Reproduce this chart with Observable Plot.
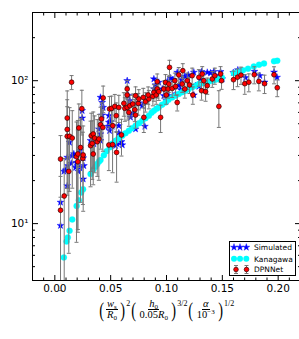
<!DOCTYPE html>
<html><head><meta charset="utf-8">
<script src="https://cdn.jsdelivr.net/npm/d3@7"></script>
<script src="https://cdn.jsdelivr.net/npm/@observablehq/plot@0.6"></script>
<style>
html,body{margin:0;padding:0;background:#fff;overflow:hidden;}
#wrap{position:relative;width:299px;height:339px;overflow:hidden;background:#fff;}
#legend{position:absolute;left:229px;top:241px;width:67px;height:35px;box-sizing:border-box;border:1px solid #000;background:#fff;}
#legend svg{display:block;}
#xlabel{position:absolute;left:0;top:298px;width:332px;display:flex;justify-content:center;}
.m{display:inline-flex;align-items:center;font-family:"Liberation Serif","DejaVu Serif",serif;font-size:10.5px;color:#000;}
.fr{display:inline-flex;flex-direction:column;align-items:center;margin:0 1px;}
.nu{border-bottom:0.8px solid #000;padding:0 1px;line-height:10.5px;}
.de{line-height:10.5px;padding:0 1px;}
.pr{font-size:22px;line-height:23px;font-weight:300;display:inline-block;transform:scaleX(0.65);}
.ex{font-size:8px;align-self:flex-start;margin-top:1px;}
sub{font-size:7px;vertical-align:-2px;line-height:0;}
.de sup{font-size:7px;vertical-align:4px;line-height:0;}
</style></head><body><div id="wrap"></div>
<script>
// ---- data ----
const xDomain = [-0.02, 0.22];
const yDomain = [4, 300];
const xMajor = [0, 0.05, 0.1, 0.15, 0.2];
const xMinor = [-0.01, 0.01, 0.02, 0.03, 0.04, 0.06, 0.07, 0.08, 0.09, 0.11, 0.12, 0.13, 0.14, 0.16, 0.17, 0.18, 0.19, 0.21];
const yMajor = [10, 100];
const yMajorLabels = ["10¹", "10²"];
const yMinor = [5, 6, 7, 8, 9, 20, 30, 40, 50, 60, 70, 80, 90, 200];
const seriesNames = ["Simulated", "Kanagawa", "DPNNet"];

// Simulated: [x, y]
const simulated = [
[0.0051,9.7],[0.0051,14.1],[0.0081,23.2],[0.0096,23.7],[0.0111,18.4],[0.0111,29.1],[0.0116,25.4],[0.0132,37.0],
[0.0147,26.4],[0.0156,29.9],[0.0170,30.7],[0.0185,24.7],[0.0194,26.8],[0.0210,23.2],[0.0224,32.4],[0.0224,24.7],
[0.0245,54.8],[0.0245,61.7],[0.0254,28.8],[0.0260,25.4],[0.0254,20.5],[0.0320,38.1],[0.0335,40.1],[0.0349,36.1],
[0.0358,39.1],[0.0394,45.9],[0.0409,42.4],[0.0409,38.1],[0.0409,76.4],[0.0424,70.4],[0.0433,65.0],[0.0424,57.5],
[0.0484,56.9],[0.0484,51.1],[0.0499,51.6],[0.0478,47.9],[0.0514,47.9],[0.0490,44.7],[0.0544,35.1],[0.0573,48.4],
[0.0573,43.1],[0.0597,37.4],[0.0604,35.5],[0.0648,100],[0.0657,78.5],[0.0669,72.4],[0.0678,55.4],[0.0698,59.4],
[0.0723,45.9],[0.0752,69.8],[0.0783,66.8],[0.0806,47.9],[0.0887,102.8],[0.0887,87.5],[0.0902,93.3],[0.0931,97.3],
[0.0962,87.5],[0.0976,78.5],[0.0998,72.4],[0.1007,98.4],[0.1021,78.5],[0.1057,101.6],[0.1081,80.7],[0.1096,114.3],
[0.1110,92.3],[0.1126,86.5],[0.1135,101.6],[0.1164,107.2],[0.1195,109.6],[0.1245,114.3],[0.1245,79.4],[0.1260,92.3],
[0.1290,91.2],[0.1305,101.6],[0.1314,115.6],[0.1365,114.3],[0.1394,113.2],[0.1424,115.6],[0.1439,108.4],[0.1484,115.6],
[0.1499,102.8],[0.1598,113.8],[0.1639,118.8],[0.1667,115.6],[0.1708,105],[0.1788,116.2],[0.1836,108.4],[0.1878,97.6],
[0.1963,114.7],[0.1990,105.5],[0.1036,104.4],[0.0559,36.1],[0.0902,80.7]
];

// Kanagawa: [x, y]
const kanagawa = [
[0.0081,5.8],[0.0105,7.5],[0.0116,8.0],[0.0132,8.9],[0.0156,10.7],[0.0195,13.3],[0.0215,14.6],[0.0236,16.5],
[0.0253,17.4],[0.0320,22.2],[0.0344,23.9],[0.0364,25.0],[0.0380,26.1],[0.0396,27.2],[0.0409,27.9],[0.0439,30.1],
[0.0463,32.1],[0.0493,34.2],[0.0517,36.3],[0.0544,38.0],[0.0570,39.5],[0.0604,41.2],[0.0633,42.9],[0.0663,44.7],
[0.0691,46.5],[0.0723,48.4],[0.0754,50.4],[0.0783,52.5],[0.0812,54.6],[0.0842,56.9],[0.0866,59.7],[0.0887,61.7],
[0.0911,63.7],[0.0931,65.0],[0.0960,67.9],[0.0991,70.4],[0.1018,73.6],[0.1051,76.4],[0.1081,78.5],[0.1110,80.7],
[0.1139,83.1],[0.1170,85.1],[0.1197,87.2],[0.1230,89.8],[0.1260,92.3],[0.1290,94.7],[0.1318,96.0],[0.1350,97.3],
[0.1376,98.4],[0.1410,100],[0.1439,101.6],[0.1469,102.8],[0.1497,105],[0.1603,112.8],[0.1641,115.6],[0.1685,118.4],
[0.1730,121.3],[0.1782,125.9],[0.1829,129.4],[0.1873,131.9],[0.1963,136.9],[0.1992,138]
];

// DPNNet: [x, y, error]
const dpnnet = [
[0.0051,28.3,13],[0.0051,12.4,9],[0.0084,15.6,13],[0.0111,54.8,30],[0.0111,45.6,28],[0.0111,40.8,25],[0.0132,40.8,24],
[0.0150,97.6,11],[0.0156,39.7,22],[0.0194,29.4,22],[0.0206,30.7,22],[0.0215,46.7,22],[0.0230,34.1,20],[0.0242,63.7,22],
[0.0251,28.6,15],[0.0254,30.2,18],[0.0320,35.1,17],[0.0326,41.2,18],[0.0335,36.4,16],[0.0344,42.4,18],[0.0356,39.7,17],
[0.0380,37.4,16],[0.0394,39.1,19],[0.0409,49.2,16],[0.0418,54.0,16],[0.0433,75.7,16],[0.0430,47.1,15],[0.0490,63.4,14],
[0.0508,64.0,14],[0.0537,66.1,14],[0.0519,48.4,14],[0.0550,56.9,13],[0.0573,65.0,14],[0.0597,41.7,12],[0.0553,31.5,12],
[0.0484,35.5,12],[0.0618,69.4,13],[0.0627,64.0,12],[0.0648,65.0,12],[0.0663,60.0,12],[0.0672,66.8,12],[0.0698,68.7,12],
[0.0716,62.7,11],[0.0723,57.5,11],[0.0747,69.4,12],[0.0752,74.5,12],[0.0723,78.5,12],[0.0648,87.5,13],[0.0648,79.4,12],
[0.0792,76.4,12],[0.0797,55.4,12],[0.0812,71.3,11],[0.0842,74.5,11],[0.0836,79.4,11],[0.0878,77.7,11],[0.0887,82.8,11],
[0.0908,79.4,11],[0.0917,87.5,12],[0.0931,83.8,11],[0.0917,98.4,13],[0.0947,55.4,12],[0.0976,87.5,12],[0.0991,97.3,13],
[0.0998,79.4,11],[0.1015,87.5,12],[0.1027,123.9,15],[0.1021,94.8,12],[0.1051,88.3,12],[0.1081,91.2,12],[0.1075,100,13],
[0.1096,70.4,9],[0.1110,109.6,14],[0.1146,117.5,14],[0.1141,94.8,12],[0.1164,87.5,12],[0.1186,100,13],[0.1206,93.3,12],
[0.1230,108.4,14],[0.1236,79.4,11],[0.1290,105.5,14],[0.1314,85.1,12],[0.1320,111.4,14],[0.1334,100,13],[0.1350,83.8,12],
[0.1365,92.3,12],[0.1410,102.8,13],[0.1433,108.4,14],[0.1469,66.1,19],[0.1493,100,13],[0.1484,111.4,14],[0.1600,101.6,15],
[0.1636,105.8,15],[0.1667,109.3,15],[0.1701,95.3,15],[0.1737,97.6,14],[0.1786,110.1,15],[0.1827,98.9,14],[0.1878,95.3,14],
[0.1963,110.1,15],[0.1992,89.3,12],[0.0206,27.1,18],[0.0125,23.2,17],[0.0344,30.7,12],[0.0517,35.7,13]
];

// ---- styles ----
const colSim = "blue", colKan = "#00ffff", colDpn = "red", colErr = "#777";

const simRows = simulated.map(([x, y]) => ({x, y}));
const kanRows = kanagawa.map(([x, y]) => ({x, y}));
const dpnRows = dpnnet.map(([x, y, e]) => ({x, y, lo: y - e > 0 ? y - e : yDomain[0] / 2, hi: y + e, capLo: y - e > 0}));

const cap = {draw(ctx, size) { const r = Math.sqrt(size / Math.PI); ctx.moveTo(-r, 0); ctx.lineTo(r, 0); }};

const tickOnly = (anchor, ticks, size, isX) =>
  (isX ? Plot.axisX : Plot.axisY)(ticks, {anchor, tickSize: -size, fill: "none", label: null, stroke: "black"});

const chart = Plot.plot({
  width: 300, height: 296,
  marginLeft: 32, marginRight: 0, marginTop: 12, marginBottom: 16,
  x: {domain: xDomain},
  y: {type: "log", domain: yDomain},
  style: {fontFamily: "DejaVu Sans", fontSize: "10.5px", background: "white", maxWidth: "none", color: "black"},
  marks: [
    Plot.dot(simRows, {x: "x", y: "y", symbol: "star", r: 2.2, fill: colSim, stroke: colSim, strokeWidth: 0.4}),
    Plot.dot(kanRows, {x: "x", y: "y", r: 3, fill: colKan, stroke: colKan, strokeWidth: 0.3}),
    Plot.ruleX(dpnRows, {x: "x", y1: "lo", y2: "hi", stroke: colErr, strokeWidth: 1, clip: true}),
    Plot.dot(dpnRows.filter(d => d.capLo), {x: "x", y: "lo", symbol: cap, r: 2, fill: "none", stroke: colErr, strokeWidth: 1}),
    Plot.dot(dpnRows, {x: "x", y: "hi", symbol: cap, r: 2, fill: "none", stroke: colErr, strokeWidth: 1}),
    Plot.dot(dpnRows, {x: "x", y: "y", r: 2.4, fill: colDpn, stroke: "#300", strokeWidth: 0.7}),
    // spines: left, bottom, top (right spine lies outside the picture)
    Plot.ruleX([xDomain[0]], {stroke: "black"}),
    Plot.ruleY([yDomain[0]], {stroke: "black"}),
    Plot.ruleY([yDomain[1]], {stroke: "black"}),
    tickOnly("bottom", xMajor, 5, true),
    tickOnly("bottom", xMinor, 2.5, true),
    tickOnly("top", xMajor, 5, true),
    tickOnly("top", xMinor, 2.5, true),
    tickOnly("left", yMajor, 6, false),
    tickOnly("left", yMinor, 3, false),
    tickOnly("right", yMajor, 6, false),
    tickOnly("right", yMinor, 3, false),
    Plot.axisX(xMajor, {anchor: "bottom", tickSize: 0, tickPadding: 4, tickFormat: d3.format(".2f"), label: null}),
    Plot.axisY(yMajor, {anchor: "left", tickSize: 0, tickPadding: 4, tickFormat: d => yMajorLabels[yMajor.indexOf(d)], label: null})
  ]
});

const wrap = document.getElementById("wrap");
wrap.appendChild(chart);

// ---- legend ----
const leg = document.createElement("div");
leg.id = "legend";
const starPath = d3.symbol(d3.symbolStar, Math.PI * 2.2 * 2.2)();
const rowsY = [5.3, 16.7, 27];
let s = `<svg width="65" height="33" xmlns="http://www.w3.org/2000/svg" font-family="DejaVu Sans" font-size="7.5">`;
[4, 10, 16.3].forEach(x => { s += `<path d="${starPath}" transform="translate(${x},${rowsY[0]})" fill="${colSim}" stroke="${colSim}" stroke-width="0.4"/>`; });
[4, 10, 16.3].forEach(x => { s += `<circle cx="${x}" cy="${rowsY[1]}" r="3" fill="${colKan}"/>`; });
[5.5, 16].forEach(x => {
  const y = rowsY[2];
  s += `<line x1="${x+0.5}" x2="${x+0.5}" y1="${y-4}" y2="${y+4}" stroke="${colErr}"/>`;
  s += `<line x1="${x-1.5}" x2="${x+2.5}" y1="${y-3.5}" y2="${y-3.5}" stroke="${colErr}"/>`;
  s += `<line x1="${x-1.5}" x2="${x+2.5}" y1="${y+4.5}" y2="${y+4.5}" stroke="${colErr}"/>`;
  s += `<circle cx="${x+0.5}" cy="${y+0.5}" r="2.3" fill="${colDpn}" stroke="#300" stroke-width="0.7"/>`;
});
seriesNames.forEach((n, i) => { s += `<text x="24" y="${rowsY[i] + 2.8}" fill="#000">${n}</text>`; });
s += `</svg>`;
leg.innerHTML = s;
wrap.appendChild(leg);

// ---- x label ----
const xl = document.createElement("div");
xl.id = "xlabel";
xl.innerHTML = `<span class="m">
<span class="pr">(</span><span class="fr"><span class="nu"><i>w</i><sub>s</sub></span><span class="de"><i>R</i><sub>0</sub></span></span><span class="pr">)</span><span class="ex">2</span>
<span class="pr">(</span><span class="fr"><span class="nu"><i>h</i><sub>0</sub></span><span class="de">0.05<i>R</i><sub>0</sub></span></span><span class="pr">)</span><span class="ex">3/2</span>
<span class="pr">(</span><span class="fr"><span class="nu"><i>α</i></span><span class="de">10<sup>−3</sup></span></span><span class="pr">)</span><span class="ex">1/2</span>
</span>`;
wrap.appendChild(xl);
</script></body></html>
